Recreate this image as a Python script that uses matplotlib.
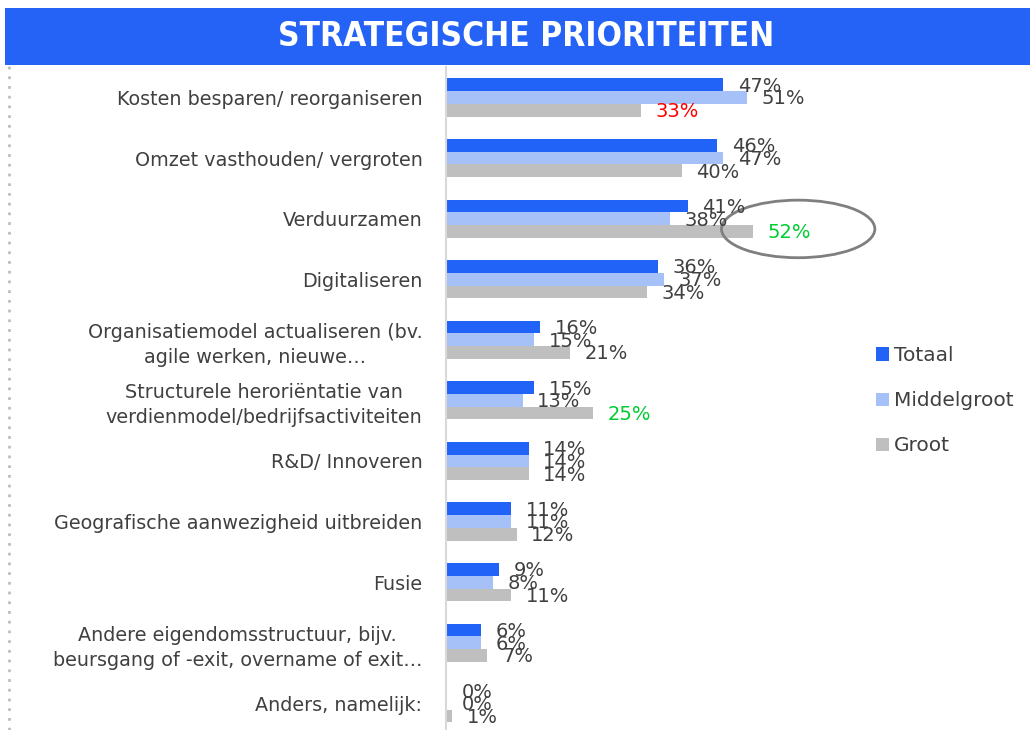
import matplotlib.pyplot as plt
from matplotlib.patches import Rectangle, Ellipse
from matplotlib.lines import Line2D

categories = [
    "Kosten besparen/ reorganiseren",
    "Omzet vasthouden/ vergroten",
    "Verduurzamen",
    "Digitaliseren",
    "Organisatiemodel actualiseren (bv.\nagile werken, nieuwe\u2026",
    "Structurele heroriëntatie van\nverdienmodel/bedrijfsactiviteiten",
    "R&D/ Innoveren",
    "Geografische aanwezigheid uitbreiden",
    "Fusie",
    "Andere eigendomsstructuur, bijv.\nbeursgang of -exit, overname of exit\u2026",
    "Anders, namelijk:",
]
totaal = [47, 46, 41, 36, 16, 15, 14, 11, 9, 6, 0.2]
middelgroot = [51, 47, 38, 37, 15, 13, 14, 11, 8, 6, 0.2]
groot = [33, 40, 52, 34, 21, 25, 14, 12, 11, 7, 1]
series_names = ["Totaal", "Middelgroot", "Groot"]

# highlighted labels of the Groot series
groot_label_colors = {0: "#FF0000", 2: "#00CC33", 5: "#00CC33"}

colors = ["#2162F7", "#A5C1F8", "#BFBFBF"]
text_color = "#404040"
label_font = "DejaVu Sans"

fig = plt.figure(figsize=(10.3, 7.3), dpi=100)

# title banner
fig.patches.append(Rectangle((5 / 1030, 1 - 65 / 730), 1025 / 1030, 57 / 730,
                             transform=fig.transFigure, facecolor="#2463F6",
                             edgecolor="none", zorder=0))
fig.text(0.511, 1 - 37 / 730, "STRATEGISCHE PRIORITEITEN", color="white",
         fontsize=24, fontweight="bold", fontstretch="condensed",
         family="DejaVu Sans", ha="center", va="center")

# dotted frame line on the left
fig.lines.append(Line2D([9 / 1030, 9 / 1030], [0, 1 - 66 / 730],
                        transform=fig.transFigure, color="#BFBFBF",
                        linestyle=(0, (1, 2.5)), linewidth=2))

ax = fig.add_axes([446 / 1030, -0.005, 584 / 1030, 0.913])

bar_h = 0.21
n = len(categories)
ys = list(range(n))
all_series = [totaal, middelgroot, groot]
for i, (vals, name, col) in enumerate(zip(all_series, series_names, colors)):
    pos = [y + (i - 1) * bar_h for y in ys]
    ax.barh(pos, vals, height=bar_h, color=col, label=name)
    for j, (p, v) in enumerate(zip(pos, vals)):
        c = text_color
        if i == 2 and j in groot_label_colors:
            c = groot_label_colors[j]
        ax.annotate("{:.0f}%".format(v), (v, p), xytext=(10.5, -1),
                    textcoords="offset points", ha="left", va="center",
                    fontsize=14, color=c, family=label_font)

ax.add_patch(Ellipse((59.7, 2.17), 26, 0.95, facecolor="none",
                     edgecolor="#7F7F7F", linewidth=2, clip_on=False))

ax.set_xlim(0, 99)
ax.set_ylim(n - 0.5, -0.5)
ax.set_yticks(ys)
ax.set_yticklabels(categories, fontsize=13.8, color=text_color,
                   family=label_font, linespacing=1.4, multialignment="center")
ax.tick_params(axis="y", length=0, pad=17)
ax.set_xticks([])
for s in ["top", "right", "bottom"]:
    ax.spines[s].set_visible(False)
ax.spines["left"].set_color("#D9D9D9")
ax.spines["left"].set_linewidth(1.5)
ax.set_facecolor("none")

leg = fig.legend(loc="upper left", bbox_to_anchor=(858 / 1030, 1 - 328 / 730),
                 frameon=False, handlelength=0.65, handleheight=0.65,
                 handletextpad=0.25, labelspacing=1.3,
                 prop={"family": label_font, "size": 14.5})
for t in leg.get_texts():
    t.set_color(text_color)

fig.savefig("out.png", dpi=100)
